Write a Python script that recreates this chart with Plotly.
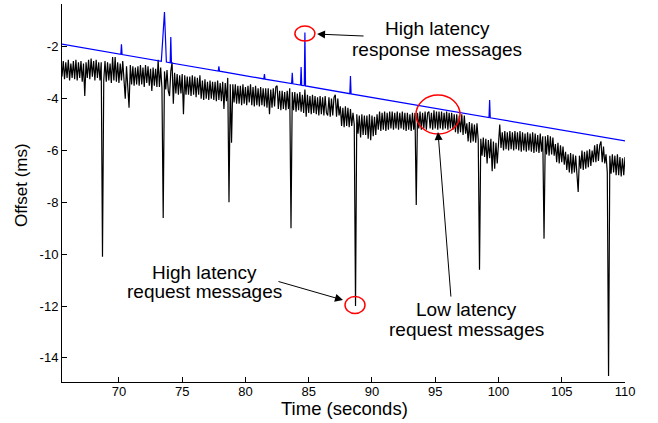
import numpy as np
import plotly.graph_objects as go

# Request-message offsets (ms), sampled every 0.1 s starting at 65.5 s;
# one row per second of capture.
request_start = 65.5
request_step = 0.1
request_offset = [
    -3.15, -2.55, -3.25, -2.60, -3.20, -2.50, -3.30, -2.65, -3.20, -2.55,    # 65.5
    -3.25, -2.50, -3.30, -2.60, -3.20, -2.55, -3.35, -2.65, -3.90, -2.60,    # 66.5
    -3.20, -2.50, -3.25, -2.45, -3.15, -2.55, -3.30, -2.50, -3.20, -2.60,    # 67.5
    -3.30, -2.60, -10.10, -3.30, -2.55, -3.35, -2.60, -3.30, -2.65, -3.40,   # 68.5
    -2.40, -3.30, -2.40, -3.35, -2.60, -3.40, -2.65, -3.30, -2.55, -3.35,    # 69.5
    -4.00, -2.75, -3.45, -4.35, -2.70, -3.45, -2.75, -3.50, -2.80, -3.45,    # 70.5
    -2.75, -3.50, -2.70, -3.45, -2.80, -3.55, -2.70, -3.40, -2.75, -3.50,    # 71.5
    -2.85, -3.70, -2.80, -3.50, -2.85, -3.55, -2.50, -3.55, -2.80, -3.60,    # 72.5
    -8.60, -2.95, -3.65, -2.90, -3.70, -3.90, -2.95, -2.60, -4.20, -3.00,    # 73.5
    -3.80, -3.05, -3.85, -3.10, -3.80, -3.05, -4.60, -3.10, -3.85, -3.15,    # 74.5
    -3.85, -3.15, -3.90, -3.10, -3.85, -3.15, -3.95, -3.20, -3.85, -3.10,    # 75.5
    -4.00, -3.30, -4.05, -3.25, -4.00, -3.35, -4.05, -3.30, -4.00, -3.35,    # 76.5
    -4.05, -3.35, -4.10, -3.30, -4.05, -3.40, -4.10, -3.35, -4.40, -3.40,    # 77.5
    -4.10, -3.20, -8.00, -3.45, -5.70, -3.45, -4.15, -3.45, -4.20, -3.50,    # 78.5
    -4.20, -3.50, -4.25, -3.45, -4.20, -3.55, -4.25, -3.50, -4.15, -3.45,    # 79.5
    -4.25, -3.55, -4.30, -3.50, -4.25, -3.60, -4.30, -3.55, -4.25, -3.60,    # 80.5
    -4.30, -3.60, -4.35, -3.60, -4.60, -3.65, -4.35, -3.60, -4.30, -3.55,    # 81.5
    -3.50, -4.40, -3.70, -4.45, -3.70, -4.40, -3.75, -4.45, -3.70, -4.40,    # 82.5
    -3.60, -9.00, -3.75, -4.45, -3.75, -4.50, -3.80, -4.45, -3.75, -4.50,    # 83.5
    -3.85, -4.55, -3.65, -4.70, -3.85, -4.55, -3.90, -4.60, -3.85, -4.55,    # 84.5
    -3.90, -4.60, -3.95, -4.65, -3.90, -4.60, -3.95, -4.65, -3.90, -4.55,    # 85.5
    -4.65, -3.95, -4.70, -4.00, -4.65, -3.95, -3.85, -4.70, -4.00, -4.65,    # 86.5
    -4.30, -5.05, -4.35, -5.10, -4.30, -5.05, -4.35, -5.10, -4.40, -5.05,    # 87.5
    -4.55, -5.00, -12.00, -4.60, -5.35, -4.65, -5.50, -4.60, -5.40, -4.65,   # 88.5
    -5.40, -4.65, -5.55, -4.60, -5.60, -4.65, -5.45, -4.70, -5.40, -4.60,    # 89.5
    -5.20, -4.50, -5.25, -4.55, -5.20, -4.50, -5.25, -4.55, -5.20, -4.50,    # 90.5
    -5.15, -4.50, -5.20, -4.55, -5.15, -4.50, -5.20, -4.55, -5.15, -4.50,    # 91.5
    -5.20, -4.55, -5.25, -4.55, -5.20, -4.60, -5.25, -4.55, -5.20, -4.55,    # 92.5
    -8.10, -4.55, -5.15, -4.50, -5.20, -4.55, -5.15, -4.50, -5.20, -4.55,    # 93.5
    -4.50, -5.15, -4.55, -5.20, -4.45, -5.15, -4.50, -5.20, -4.50, -5.15,    # 94.5
    -4.50, -5.20, -4.55, -5.15, -4.50, -5.20, -4.55, -5.15, -4.55, -5.20,    # 95.5
    -4.60, -5.30, -4.60, -5.35, -4.65, -5.30, -4.60, -5.40, -4.65, -5.35,    # 96.5
    -4.95, -5.65, -4.90, -5.70, -4.95, -5.65, -5.00, -5.70, -4.95, -5.60,    # 97.5
    -10.60, -5.55, -6.20, -5.50, -6.25, -5.55, -6.50, -5.60, -6.30, -5.55,   # 98.5
    -6.80, -5.65, -6.70, -5.70, -6.50, -5.60, -5.00, -5.90, -5.30, -6.00,    # 99.5
    -5.25, -5.95, -5.30, -6.00, -5.25, -5.95, -5.30, -6.00, -5.25, -5.95,    # 100.5
    -5.30, -6.00, -5.25, -6.05, -5.30, -6.00, -5.35, -6.05, -5.30, -6.00,    # 101.5
    -5.35, -6.05, -5.30, -6.10, -5.35, -6.05, -5.40, -6.10, -5.35, -6.05,    # 102.5
    -5.45, -9.40, -5.45, -6.15, -5.40, -6.20, -5.45, -6.15, -5.50, -6.20,    # 103.5
    -5.75, -6.45, -5.70, -6.50, -5.80, -6.45, -5.85, -6.55, -6.05, -6.75,    # 104.5
    -6.15, -6.85, -6.10, -6.90, -6.15, -6.85, -6.20, -6.90, -7.60, -6.20,    # 105.5
    -6.70, -6.00, -6.75, -6.05, -6.70, -6.00, -6.65, -5.95, -6.60, -6.00,    # 106.5
    -6.45, -5.80, -6.45, -5.75, -6.40, -5.80, -5.65, -6.45, -5.85, -6.50,    # 107.5
    -6.15, -6.85, -14.70, -6.20, -6.90, -6.15, -6.85, -6.20, -6.95, -6.15,   # 108.5
    -6.95, -6.25, -7.00, -6.30, -6.95, -6.25, -6.90, -6.30, -6.60, -6.45,    # 109.5
]
request_time = request_start + request_step * np.arange(len(request_offset))

# Response-message offsets (ms): a steady drift with a few late arrivals.
response_time = [
    65.5,
    70.15, 70.20, 70.25,
    73.35, 73.60, 73.75,
    74.05, 74.10, 74.15,
    77.85, 77.90, 77.95,
    81.45, 81.50, 81.55,
    83.65, 83.70, 83.75,
    84.35, 84.40, 84.45,
    84.65, 84.70, 84.75,
    88.25, 88.30, 88.35,
    99.25, 99.30, 99.35,
    110.2,
]
response_offset = [
    -1.90,
    -2.29, -1.90, -2.30,
    -2.56, -0.66, -2.59,
    -2.62, -1.62, -2.63,
    -2.94, -2.75, -2.94,
    -3.24, -3.05, -3.25,
    -3.42, -3.00, -3.43,
    -3.48, -2.78, -3.49,
    -3.50, -1.45, -3.51,
    -3.81, -3.13, -3.82,
    -4.73, -4.05, -4.74,
    -5.65,
]

x_ticks = [70, 75, 80, 85, 90, 95, 100, 105, 110]
y_ticks = [-14, -12, -10, -8, -6, -4, -2]
y_tick_labels = ["-14", "-12", "-10", "-8", "-6", "-4", "-2"]

FONT = "Liberation Sans, Arial, Helvetica, sans-serif"

fig = go.Figure()
fig.add_trace(go.Scatter(
    x=request_time, y=request_offset, mode="lines",
    line=dict(color="black", width=1.2), showlegend=False,
))
fig.add_trace(go.Scatter(
    x=response_time, y=response_offset, mode="lines",
    line=dict(color="#0000ff", width=1.2), showlegend=False,
))

# Red markers around the points of interest
red = dict(color="red", width=1.5)
fig.add_shape(type="circle", xref="x", yref="y",
              x0=83.91, x1=85.49, y0=-1.78, y1=-1.20, line=red)
fig.add_shape(type="circle", xref="x", yref="y",
              x0=87.87, x1=89.45, y0=-12.29, y1=-11.63, line=red)
fig.add_shape(type="circle", xref="x", yref="y",
              x0=93.48, x1=96.96, y0=-5.36, y1=-3.86, line=red)

labels = [
    ("High latency", 95.14, -1.30),
    ("response messages", 95.14, -2.11),
    ("High latency", 76.73, -10.70),
    ("request messages", 76.73, -11.44),
    ("Low latency", 97.44, -12.13),
    ("request messages", 97.44, -12.90),
]
for text, lx, ly in labels:
    fig.add_annotation(x=lx, y=ly, xref="x", yref="y", text=text,
                       showarrow=False, xanchor="center", yanchor="middle",
                       font=dict(family=FONT, size=19, color="black"))

arrows = [
    (85.66, -1.51, 48, 2),
    (87.71, -11.77, -66, -19),
    (95.22, -5.29, 13, 166),
]
for hx, hy, ax, ay in arrows:
    fig.add_annotation(x=hx, y=hy, xref="x", yref="y", text="",
                       showarrow=True, ax=ax, ay=ay, arrowhead=2,
                       arrowsize=1.6, arrowwidth=1, arrowcolor="black",
                       standoff=0, startstandoff=0)

# Axis titles
fig.add_annotation(x=0.5009, y=-0.0700, xref="paper", yref="paper",
                   text="Time (seconds)", showarrow=False,
                   xanchor="center", yanchor="middle",
                   font=dict(family=FONT, size=18.5, color="black"))
fig.add_annotation(x=-0.0728, y=0.521, xref="paper", yref="paper",
                   text="Offset (ms)", showarrow=False, textangle=-90,
                   xanchor="center", yanchor="middle",
                   font=dict(family=FONT, size=17, color="black"))

axis_common = dict(
    showline=True, linecolor="black", linewidth=1, mirror=False,
    ticks="inside", ticklen=5, tickwidth=1, tickcolor="black",
    showgrid=False, zeroline=False,
    tickfont=dict(family=FONT, size=13, color="black"),
)
fig.update_xaxes(range=[65.5, 110], tickvals=x_ticks,
                 ticklabelstandoff=-3, **axis_common)
fig.update_yaxes(range=[-14.93, -0.35], tickvals=y_ticks,
                 ticktext=y_tick_labels, **axis_common)

fig.update_layout(
    width=658, height=423,
    margin=dict(l=62, r=33, t=4, b=41),
    paper_bgcolor="white", plot_bgcolor="white",
)

fig.write_html("out.html", config={"displayModeBar": False})
